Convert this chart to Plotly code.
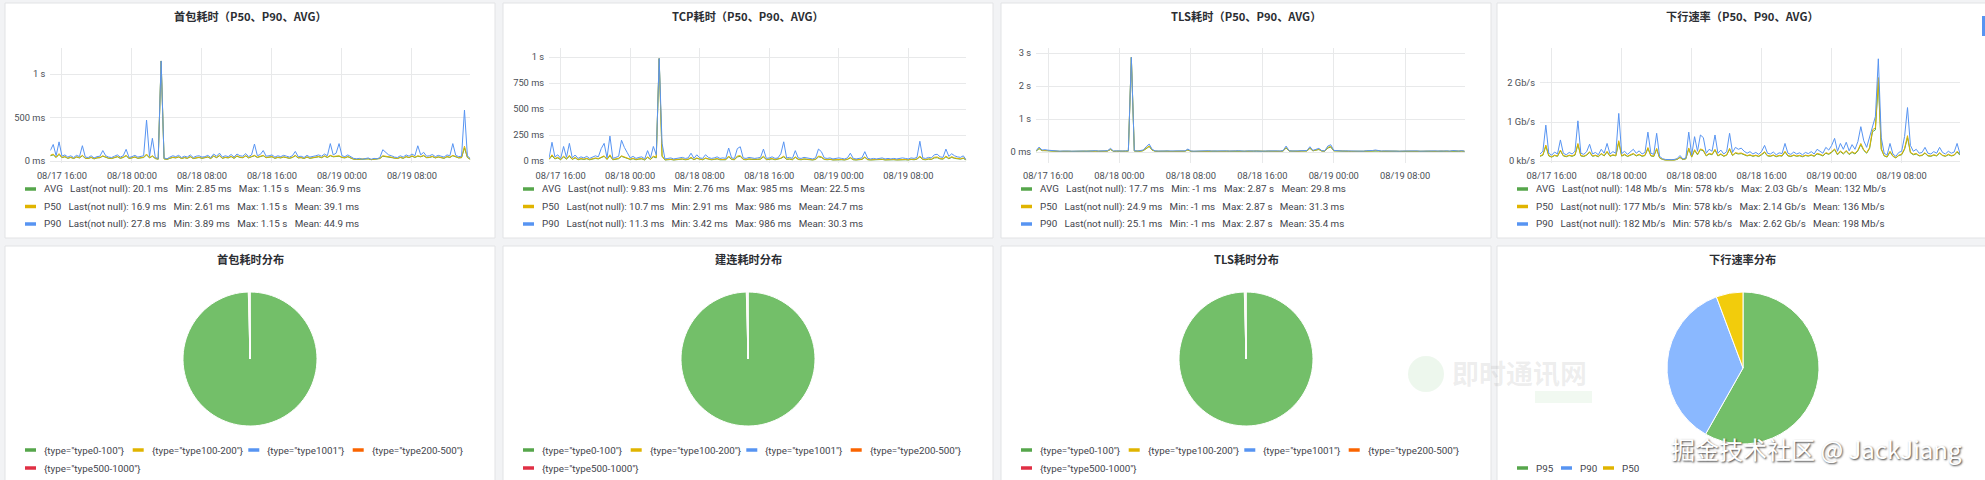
import plotly.graph_objects as go
import pandas as pd

W, H = 1985, 480
START = "2023-08-17 14:40"
END = "2023-08-19 14:40"
FREQ = "20min"

TITLES = ["首包耗时（P50、P90、AVG）", "TCP耗时（P50、P90、AVG）",
          "TLS耗时（P50、P90、AVG）", "下行速率（P50、P90、AVG）"]
PIE_TITLES = ["首包耗时分布", "建连耗时分布", "TLS耗时分布", "下行速率分布"]
SERIES_NAMES = ["AVG", "P50", "P90"]

# ---------------- 首包耗时 (ms) ----------------
FB_P90 = [120, 190, 60, 220, 55, 70, 45, 60, 40, 65, 50, 176,
          45, 40, 60, 35, 50, 55, 120, 60, 45, 40, 55, 70,
          45, 60, 134, 40, 50, 65, 45, 55, 60, 471, 50, 261,
          40, 30, 1150, 35, 25, 45, 60, 50, 65, 40, 55, 45,
          70, 40, 55, 60, 45, 50, 65, 40, 80, 55, 90, 45,
          60, 50, 75, 45, 80, 60, 55, 85, 50, 70, 195, 60,
          75, 120, 55, 60, 70, 45, 60, 50, 65, 55, 45, 60,
          110, 50, 55, 40, 65, 45, 50, 60, 70, 55, 80, 60,
          200, 70, 90, 200, 60, 50, 70, 45, 30, 25, 30, 20,
          25, 35, 20, 30, 25, 40, 130, 100, 70, 60, 45, 40,
          60, 45, 70, 55, 80, 60, 175, 70, 100, 55, 60, 75,
          50, 65, 55, 45, 70, 60, 200, 65, 50, 55, 586, 60,
          27.8]
FB_AVG = [60, 70, 40, 75, 38, 48, 30, 40, 28, 45, 35, 60,
          30, 28, 40, 24, 35, 38, 55, 40, 30, 28, 38, 48,
          30, 40, 60, 28, 35, 45, 30, 38, 40, 70, 35, 55,
          28, 20, 1150, 24, 18, 30, 40, 35, 45, 28, 38, 30,
          48, 28, 38, 40, 30, 35, 45, 28, 55, 38, 60, 30,
          40, 35, 50, 30, 55, 40, 38, 58, 35, 48, 60, 40,
          50, 60, 38, 40, 48, 30, 40, 35, 45, 38, 30, 40,
          60, 35, 38, 28, 45, 30, 35, 40, 48, 38, 55, 40,
          60, 48, 50, 55, 40, 35, 48, 30, 20, 18, 20, 15,
          18, 24, 15, 20, 18, 28, 55, 50, 48, 40, 30, 28,
          40, 30, 48, 38, 55, 40, 55, 48, 60, 38, 40, 50,
          35, 45, 38, 30, 48, 40, 60, 45, 35, 38, 150, 40,
          20.1]
FB_P50 = [65, 80, 44, 85, 40, 52, 33, 44, 30, 48, 38, 65,
          33, 30, 44, 26, 38, 40, 60, 44, 33, 30, 40, 52,
          33, 44, 65, 30, 38, 48, 33, 40, 44, 80, 38, 60,
          30, 22, 1150, 26, 20, 33, 44, 38, 48, 30, 40, 33,
          52, 30, 40, 44, 33, 38, 48, 30, 60, 40, 66, 33,
          44, 38, 55, 33, 60, 44, 40, 62, 38, 52, 65, 44,
          55, 65, 40, 44, 52, 33, 44, 38, 48, 40, 33, 44,
          65, 38, 40, 30, 48, 33, 38, 44, 52, 40, 60, 44,
          65, 52, 55, 60, 44, 38, 52, 33, 22, 20, 22, 16,
          20, 26, 16, 22, 20, 30, 60, 55, 52, 44, 33, 30,
          44, 33, 52, 40, 60, 44, 60, 52, 65, 40, 44, 55,
          38, 48, 40, 33, 52, 44, 65, 48, 38, 40, 170, 44,
          16.9]

# ---------------- TCP耗时 (ms) ----------------
TCP_P90 = [30, 180, 40, 60, 25, 140, 35, 170, 30, 58, 25, 40,
           30, 45, 25, 35, 50, 40, 120, 170, 30, 240, 25, 35,
           45, 200, 130, 80, 30, 45, 25, 35, 40, 20, 100, 30,
           140, 60, 986, 170, 20, 25, 30, 20, 25, 30, 35, 25,
           30, 75, 25, 60, 30, 25, 60, 35, 25, 30, 40, 25,
           30, 25, 125, 30, 25, 120, 137, 30, 25, 35, 30, 25,
           30, 35, 115, 25, 30, 40, 25, 30, 70, 185, 30, 35,
           25, 100, 30, 25, 35, 30, 25, 20, 30, 115, 90, 30,
           25, 30, 20, 25, 30, 25, 20, 30, 75, 25, 20, 25,
           30, 90, 25, 20, 25, 20, 25, 30, 20, 25, 20, 25,
           20, 25, 30, 25, 20, 30, 25, 35, 190, 30, 25, 35,
           30, 60, 65, 40, 35, 115, 45, 70, 50, 40, 35, 50,
           11.3]
TCP_AVG = [15, 50, 20, 30, 12, 40, 18, 45, 15, 30, 12, 20,
           15, 22, 12, 18, 25, 20, 35, 45, 15, 50, 12, 18,
           22, 45, 35, 25, 15, 22, 12, 18, 20, 10, 35, 15,
           40, 30, 985, 45, 10, 12, 15, 10, 12, 15, 18, 12,
           15, 30, 12, 25, 15, 12, 25, 18, 12, 15, 20, 12,
           15, 12, 40, 15, 12, 40, 45, 15, 12, 18, 15, 12,
           15, 18, 40, 12, 15, 20, 12, 15, 25, 40, 15, 18,
           12, 35, 15, 12, 18, 15, 12, 10, 15, 40, 35, 15,
           12, 15, 10, 12, 15, 12, 10, 15, 30, 12, 10, 12,
           15, 35, 12, 10, 12, 10, 12, 15, 10, 12, 10, 12,
           10, 12, 15, 12, 10, 15, 12, 18, 40, 15, 12, 18,
           15, 30, 32, 20, 18, 40, 22, 35, 25, 20, 18, 25,
           9.83]
TCP_P50 = [18, 60, 24, 36, 15, 48, 21, 55, 18, 35, 15, 24,
           18, 27, 15, 21, 30, 24, 40, 50, 18, 60, 15, 21,
           27, 50, 40, 30, 18, 27, 15, 21, 24, 12, 40, 18,
           48, 36, 986, 52, 12, 15, 18, 12, 15, 18, 21, 15,
           18, 36, 15, 30, 18, 15, 30, 21, 15, 18, 24, 15,
           18, 15, 48, 18, 15, 48, 52, 18, 15, 21, 18, 15,
           18, 21, 48, 15, 18, 24, 15, 18, 28, 48, 18, 21,
           15, 40, 18, 15, 21, 18, 15, 12, 18, 48, 40, 18,
           15, 18, 12, 15, 18, 15, 12, 18, 35, 15, 12, 15,
           18, 40, 15, 12, 15, 12, 15, 18, 12, 15, 12, 15,
           12, 15, 18, 15, 12, 18, 15, 21, 48, 18, 15, 21,
           18, 36, 39, 24, 21, 48, 27, 42, 30, 24, 21, 30,
           10.7]

# ---------------- TLS耗时 (ms) ----------------
TLS_P90 = [40, 150, 60, 70, 55, 45, 30, 35, 25, 30, 40, 30,
           25, 30, 35, 45, 30, 25, 35, 30, 40, 30, 35, 30,
           40, 110, 30, 35, 25, 30, 35, 40, 2870, 40, 30, 35,
           60, 160, 240, 80, 35, 30, 40, 30, 35, 25, 30, 35,
           30, 40, 35, 90, 30, 25, 30, 35, 25, 30, 40, 30,
           35, 25, 30, 40, 35, 30, 25, 35, 40, 30, 25, 35,
           30, 35, 40, 30, 25, 30, 35, 30, 40, 35, 30, 45,
           180, 40, 30, 35, 30, 40, 35, 45, 160, 50, 80, 110,
           40, 35, 180, 220, 50, 40, 35, 30, 35, 30, 25, 30,
           35, 30, 25, 40, 35, 45, 60, 40, 30, 35, 30, 25,
           30, 35, 25, 30, 35, 30, 25, 30, 35, 25, 30, 35,
           30, 25, 35, 30, 40, 30, 35, 25, 45, 35, 30, 40,
           25.1]
TLS_AVG = [28, 100, 42, 48, 38, 30, 20, 24, 18, 20, 28, 20,
           18, 20, 24, 30, 20, 18, 24, 20, 28, 20, 24, 20,
           28, 75, 20, 24, 18, 20, 24, 28, 2870, 28, 20, 24,
           40, 110, 165, 55, 24, 20, 28, 20, 24, 18, 20, 24,
           20, 28, 24, 60, 20, 18, 20, 24, 18, 20, 28, 20,
           24, 18, 20, 28, 24, 20, 18, 24, 28, 20, 18, 24,
           20, 24, 28, 20, 18, 20, 24, 20, 28, 24, 20, 30,
           120, 28, 20, 24, 20, 28, 24, 30, 110, 35, 55, 75,
           28, 24, 120, 150, 35, 28, 24, 20, 24, 20, 18, 20,
           24, 20, 18, 28, 24, 30, 40, 28, 20, 24, 20, 18,
           20, 24, 18, 20, 24, 20, 18, 20, 24, 18, 20, 24,
           20, 18, 24, 20, 28, 20, 24, 18, 30, 24, 20, 28,
           17.7]
TLS_P50 = [31, 115, 47, 54, 43, 35, 23, 27, 20, 23, 31, 23,
           20, 23, 27, 35, 23, 20, 27, 23, 31, 23, 27, 23,
           31, 85, 23, 27, 20, 23, 27, 31, 2870, 31, 23, 27,
           47, 125, 185, 62, 27, 23, 31, 23, 27, 20, 23, 27,
           23, 31, 27, 70, 23, 20, 23, 27, 20, 23, 31, 23,
           27, 20, 23, 31, 27, 23, 20, 27, 31, 23, 20, 27,
           23, 27, 31, 23, 20, 23, 27, 23, 31, 27, 23, 35,
           140, 31, 23, 27, 23, 31, 27, 35, 125, 39, 62, 85,
           31, 27, 140, 170, 39, 31, 27, 23, 27, 23, 20, 23,
           27, 23, 20, 31, 27, 35, 47, 31, 23, 27, 23, 20,
           23, 27, 20, 23, 27, 23, 20, 23, 27, 20, 23, 27,
           23, 20, 27, 23, 31, 23, 27, 20, 35, 27, 23, 31,
           24.9]

# ---------------- 下行速率 (Mb/s) ----------------
DL_P90 = [180, 250, 920, 200, 150, 230, 180, 540, 200, 160, 220, 180,
          250, 1030, 200, 170, 240, 430, 180, 220, 160, 300, 200, 450,
          180, 240, 200, 1220, 190, 250, 170, 230, 300, 200, 260, 180,
          220, 740, 200, 170, 710, 120, 60, 40, 30, 35, 40, 60,
          140, 50, 80, 740, 150, 624, 250, 667, 600, 200, 300, 250,
          667, 200, 280, 180, 240, 710, 220, 350, 300, 330, 250, 200,
          240, 180, 220, 170, 250, 400, 200, 180, 230, 160, 210, 190,
          450, 200, 170, 230, 180, 210, 160, 220, 190, 240, 180, 300,
          250, 200, 350, 280, 400, 580, 250, 450, 300, 480, 260, 420,
          300, 500, 880, 520, 350, 620, 900, 1140, 2620, 600, 200, 150,
          450, 180, 120, 220, 250, 630, 1370, 400, 250, 300, 200, 220,
          350, 200, 180, 240, 200, 350, 220, 180, 250, 200, 230, 450,
          182]
DL_AVG = [120, 150, 380, 130, 100, 140, 120, 260, 130, 110, 140, 120,
          150, 420, 130, 115, 150, 220, 120, 140, 110, 180, 130, 230,
          120, 150, 130, 480, 125, 160, 115, 145, 180, 130, 160, 120,
          140, 320, 130, 115, 300, 80, 40, 25, 20, 22, 25, 40,
          90, 35, 55, 310, 100, 270, 160, 290, 260, 130, 180, 160,
          280, 130, 170, 120, 150, 300, 140, 200, 180, 190, 160, 130,
          150, 120, 140, 115, 160, 220, 130, 120, 145, 110, 135, 125,
          230, 130, 115, 145, 120, 135, 110, 140, 125, 150, 120, 180,
          160, 130, 200, 170, 220, 290, 160, 240, 180, 250, 165, 220,
          180, 260, 420, 270, 200, 320, 750, 800, 2030, 300, 130, 100,
          230, 120, 80, 140, 160, 300, 600, 210, 160, 180, 130, 140,
          200, 130, 120, 150, 130, 200, 140, 120, 160, 130, 145, 230,
          148]
DL_P50 = [130, 165, 410, 140, 110, 150, 130, 280, 140, 120, 150, 130,
          165, 450, 140, 125, 160, 240, 130, 150, 120, 195, 140, 250,
          130, 160, 140, 520, 135, 175, 125, 155, 195, 140, 175, 130,
          150, 345, 140, 125, 325, 85, 45, 27, 22, 24, 27, 45,
          95, 38, 60, 335, 110, 290, 175, 310, 280, 140, 195, 175,
          300, 140, 185, 130, 160, 325, 150, 215, 195, 205, 175, 140,
          160, 130, 150, 125, 175, 240, 140, 130, 155, 120, 145, 135,
          250, 140, 125, 155, 130, 145, 120, 150, 135, 160, 130, 195,
          175, 140, 215, 185, 240, 310, 175, 260, 195, 270, 180, 240,
          195, 280, 450, 290, 215, 345, 800, 850, 2140, 320, 140, 110,
          250, 130, 85, 150, 175, 325, 650, 225, 175, 195, 140, 150,
          215, 140, 130, 160, 140, 215, 150, 130, 175, 140, 155, 250,
          177]

# legend statistics: (Last(not null), Min, Max, Mean) for AVG, P50, P90
FB_STATS = [("20.1 ms", "2.85 ms", "1.15 s", "36.9 ms"),
            ("16.9 ms", "2.61 ms", "1.15 s", "39.1 ms"),
            ("27.8 ms", "3.89 ms", "1.15 s", "44.9 ms")]
TCP_STATS = [("9.83 ms", "2.76 ms", "985 ms", "22.5 ms"),
             ("10.7 ms", "2.91 ms", "986 ms", "24.7 ms"),
             ("11.3 ms", "3.42 ms", "986 ms", "30.3 ms")]
TLS_STATS = [("17.7 ms", "-1 ms", "2.87 s", "29.8 ms"),
             ("24.9 ms", "-1 ms", "2.87 s", "31.3 ms"),
             ("25.1 ms", "-1 ms", "2.87 s", "35.4 ms")]
DL_STATS = [("148 Mb/s", "578 kb/s", "2.03 Gb/s", "132 Mb/s"),
            ("177 Mb/s", "578 kb/s", "2.14 Gb/s", "136 Mb/s"),
            ("182 Mb/s", "578 kb/s", "2.62 Gb/s", "198 Mb/s")]

FB_YTICKS, FB_YTEXT = [0, 500, 1000], ["0 ms", "500 ms", "1 s"]
TCP_YTICKS, TCP_YTEXT = [0, 250, 500, 750, 1000], ["0 ms", "250 ms", "500 ms", "750 ms", "1 s"]
TLS_YTICKS, TLS_YTEXT = [0, 1000, 2000, 3000], ["0 ms", "1 s", "2 s", "3 s"]
DL_YTICKS, DL_YTEXT = [0, 1000, 2000], ["0 kb/s", "1 Gb/s", "2 Gb/s"]

# pie data
PIE_TYPES = ['{type="type0-100"}', '{type="type100-200"}', '{type="type1001"}',
             '{type="type200-500"}', '{type="type500-1000"}']
FB_DIST = [99.6, 0.2, 0.05, 0.1, 0.05]
TCP_DIST = [99.6, 0.2, 0.05, 0.1, 0.05]
TLS_DIST = [99.6, 0.2, 0.05, 0.1, 0.05]
DL_DIST_LABELS = ["P95", "P90", "P50"]
DL_DIST = [58.2, 36.1, 5.7]

# ---------------- styling ----------------
C_AVG, C_P50, C_P90 = "#56A64B", "#E0B400", "#5794F2"
SERIES_COLORS = [C_AVG, C_P50, C_P90]
PIE_COLORS = ["#73BF69", "#F2CC0C", "#8AB8FF", "#FF780A", "#F2495C"]
DL_PIE_COLORS = ["#73BF69", "#8AB8FF", "#F2CC0C"]
PIE_LEGEND_COLORS = ["#56A64B", "#E0B400", "#5794F2", "#FA6400", "#E02F44"]
DL_PIE_LEGEND_COLORS = ["#56A64B", "#5794F2", "#E0B400"]

FONT = "Roboto, 'Noto Sans CJK SC', sans-serif"
CJK = "'Noto Sans CJK SC', Roboto, sans-serif"
TEXT = "#3f444c"
TICK = "#4a4e55"
GRID = "#e8e9ea"

PANEL_LEFT = [5, 503, 1001, 1497]
PANEL_W = 490
PLOT_X = [(50.3, 470.3), (549.1, 966.2), (1036.1, 1464.7), (1540.0, 1960.0)]
PLOT_Y = (48, 163)
Y_RANGES = [(-23, 1299), (-19, 1087), (-333, 3152), (-51, 2897)]
PIES = [(250, 359, 67), (748, 359, 67), (1246, 359, 67), (1743, 368, 76)]

panels = [
    (FB_AVG, FB_P50, FB_P90, FB_STATS, FB_YTICKS, FB_YTEXT),
    (TCP_AVG, TCP_P50, TCP_P90, TCP_STATS, TCP_YTICKS, TCP_YTEXT),
    (TLS_AVG, TLS_P50, TLS_P90, TLS_STATS, TLS_YTICKS, TLS_YTEXT),
    (DL_AVG, DL_P50, DL_P90, DL_STATS, DL_YTICKS, DL_YTEXT),
]


def px(x):
    return x / W


def py(y):
    return 1 - y / H


fig = go.Figure()
shapes = []
annotations = []

# panel backgrounds
for L in PANEL_LEFT:
    for (t, b) in [(3, 238), (246, 486)]:
        shapes.append(dict(type="rect", xref="paper", yref="paper", layer="below",
                           x0=px(L), x1=px(min(L + PANEL_W, W + 2)), y0=py(b), y1=py(t),
                           fillcolor="#ffffff", line=dict(color="#e2e3e5", width=1)))

SEP = "\u00a0\u00a0\u00a0"
layout_axes = {}
for k, (avg, p50, p90, stats, yt, ytext) in enumerate(panels):
    sfx = "" if k == 0 else str(k + 1)
    xa, ya = "x" + sfx, "y" + sfx
    for name, vals, col in [("AVG", avg, C_AVG), ("P50", p50, C_P50), ("P90", p90, C_P90)]:
        xs = pd.date_range(START, periods=len(vals), freq=FREQ)
        fig.add_trace(go.Scatter(x=xs, y=vals, mode="lines", name=name,
                                 line=dict(color=col, width=1),
                                 xaxis=xa, yaxis=ya, showlegend=False,
                                 hoverinfo="skip"))
    x0, x1 = PLOT_X[k]
    layout_axes["xaxis" + sfx] = dict(
        domain=[px(x0), px(x1)], anchor=ya, type="date", range=[START, END],
        tick0="2023-08-17 16:00", dtick=8 * 3600 * 1000, tickformat="%m/%d %H:%M",
        showgrid=True, gridcolor=GRID, gridwidth=1, zeroline=False, showline=False,
        automargin=False, ticklabelstandoff=6,
        ticks="", tickfont=dict(family=FONT, size=9.3, color=TICK), fixedrange=True)
    layout_axes["yaxis" + sfx] = dict(
        domain=[py(PLOT_Y[1]), py(PLOT_Y[0])], anchor=xa, range=list(Y_RANGES[k]),
        tickvals=yt, ticktext=ytext, showgrid=True, gridcolor=GRID, gridwidth=1,
        zeroline=False, showline=False, ticks="", ticklabelstandoff=4, automargin=False,
        tickfont=dict(family=FONT, size=9.3, color=TICK), fixedrange=True)

    L = PANEL_LEFT[k]
    annotations.append(dict(text=TITLES[k], x=px(L + PANEL_W / 2), y=py(15.5),
                            xref="paper", yref="paper", showarrow=False,
                            xanchor="center", yanchor="middle",
                            font=dict(family=CJK, size=11.2, color="#2b2e33", weight="bold")))
    # legend rows
    for r, (nm, st) in enumerate(zip(SERIES_NAMES, stats)):
        yy = 189 + r * 17.5
        shapes.append(dict(type="line", xref="paper", yref="paper",
                           x0=px(L + 20), x1=px(L + 31), y0=py(yy), y1=py(yy),
                           line=dict(color=SERIES_COLORS[r], width=3.5)))
        txt = (nm + SEP + "Last(not null): " + st[0] + SEP + "Min: " + st[1]
               + SEP + "Max: " + st[2] + SEP + "Mean: " + st[3])
        annotations.append(dict(text=txt, x=px(L + 37), y=py(yy), xref="paper", yref="paper",
                                showarrow=False, xanchor="left", yanchor="middle",
                                font=dict(family=FONT, size=9.8, color=TEXT)))

fig.update_layout(**layout_axes)

# pies
PIE_LEGEND_SLOTS = [(0, 20), (0, 127.7), (0, 243.3), (0, 347.7), (1, 20)]
pie_data = [(PIE_TYPES, FB_DIST), (PIE_TYPES, TCP_DIST), (PIE_TYPES, TLS_DIST),
            (DL_DIST_LABELS, DL_DIST)]
for k, (labels, vals) in enumerate(pie_data):
    cx, cy, r = PIES[k]
    cols = DL_PIE_COLORS if k == 3 else PIE_COLORS
    fig.add_trace(go.Pie(labels=labels, values=vals, sort=False, direction="clockwise",
                         rotation=0, textinfo="none", hoverinfo="skip", showlegend=False,
                         automargin=False,
                         marker=dict(colors=cols, line=dict(color="#ffffff", width=1)),
                         domain=dict(x=[px(cx - r), px(cx + r)], y=[py(cy + r), py(cy - r)])))
    L = PANEL_LEFT[k]
    annotations.append(dict(text=PIE_TITLES[k], x=px(L + PANEL_W / 2), y=py(259),
                            xref="paper", yref="paper", showarrow=False,
                            xanchor="center", yanchor="middle",
                            font=dict(family=CJK, size=11.2, color="#2b2e33", weight="bold")))
    if k < 3:
        slots = PIE_LEGEND_SLOTS
        lcols = PIE_LEGEND_COLORS
        rows_y = [450, 468]
    else:
        slots = [(0, 20), (0, 64), (0, 106)]
        lcols = DL_PIE_LEGEND_COLORS
        rows_y = [468]
    for (row, sx), lab, c in zip(slots, labels, lcols):
        yy = rows_y[row]
        shapes.append(dict(type="line", xref="paper", yref="paper",
                           x0=px(L + sx), x1=px(L + sx + 11), y0=py(yy), y1=py(yy),
                           line=dict(color=c, width=3.5)))
        annotations.append(dict(text=lab, x=px(L + sx + 17), y=py(yy), xref="paper", yref="paper",
                                showarrow=False, xanchor="left", yanchor="middle",
                                font=dict(family=FONT, size=9.8, color=TEXT)))

# faint site watermark
shapes.append(dict(type="circle", xref="paper", yref="paper",
                   x0=px(1408), x1=px(1444), y0=py(392), y1=py(356),
                   fillcolor="rgba(110,190,110,0.12)", line=dict(width=0)))
annotations.append(dict(text="即时通讯网", x=px(1450), y=py(372), xref="paper", yref="paper",
                        showarrow=False, xanchor="left", yanchor="middle",
                        font=dict(family=CJK, size=27, color="rgba(150,150,150,0.16)", weight="bold")))
shapes.append(dict(type="rect", xref="paper", yref="paper",
                   x0=px(1535), x1=px(1592), y0=py(403), y1=py(391),
                   fillcolor="rgba(120,200,120,0.10)", line=dict(width=0)))

# author watermark
annotations.append(dict(text="掘金技术社区 @ JackJiang", x=px(1816), y=py(448),
                        xref="paper", yref="paper", showarrow=False,
                        xanchor="center", yanchor="middle",
                        font=dict(family=CJK, size=24, color="#ffffff",
                                  shadow="1px 1px 2px rgba(0,0,0,0.75)")))

# small scrollbar marker at the right edge
shapes.append(dict(type="rect", xref="paper", yref="paper",
                   x0=px(1982), x1=px(1985), y0=py(36), y1=py(16),
                   fillcolor="#5794F2", line=dict(width=0)))

fig.update_layout(width=W, height=H,
                  margin=dict(l=0, r=0, t=0, b=0, pad=0, autoexpand=False),
                  paper_bgcolor="#f2f3f5", plot_bgcolor="#ffffff",
                  shapes=shapes, annotations=annotations, showlegend=False,
                  font=dict(family=FONT))

fig.write_html("out.html", config={"displayModeBar": False},
               post_script="document.body.style.margin='0';document.body.style.overflow='hidden';")
